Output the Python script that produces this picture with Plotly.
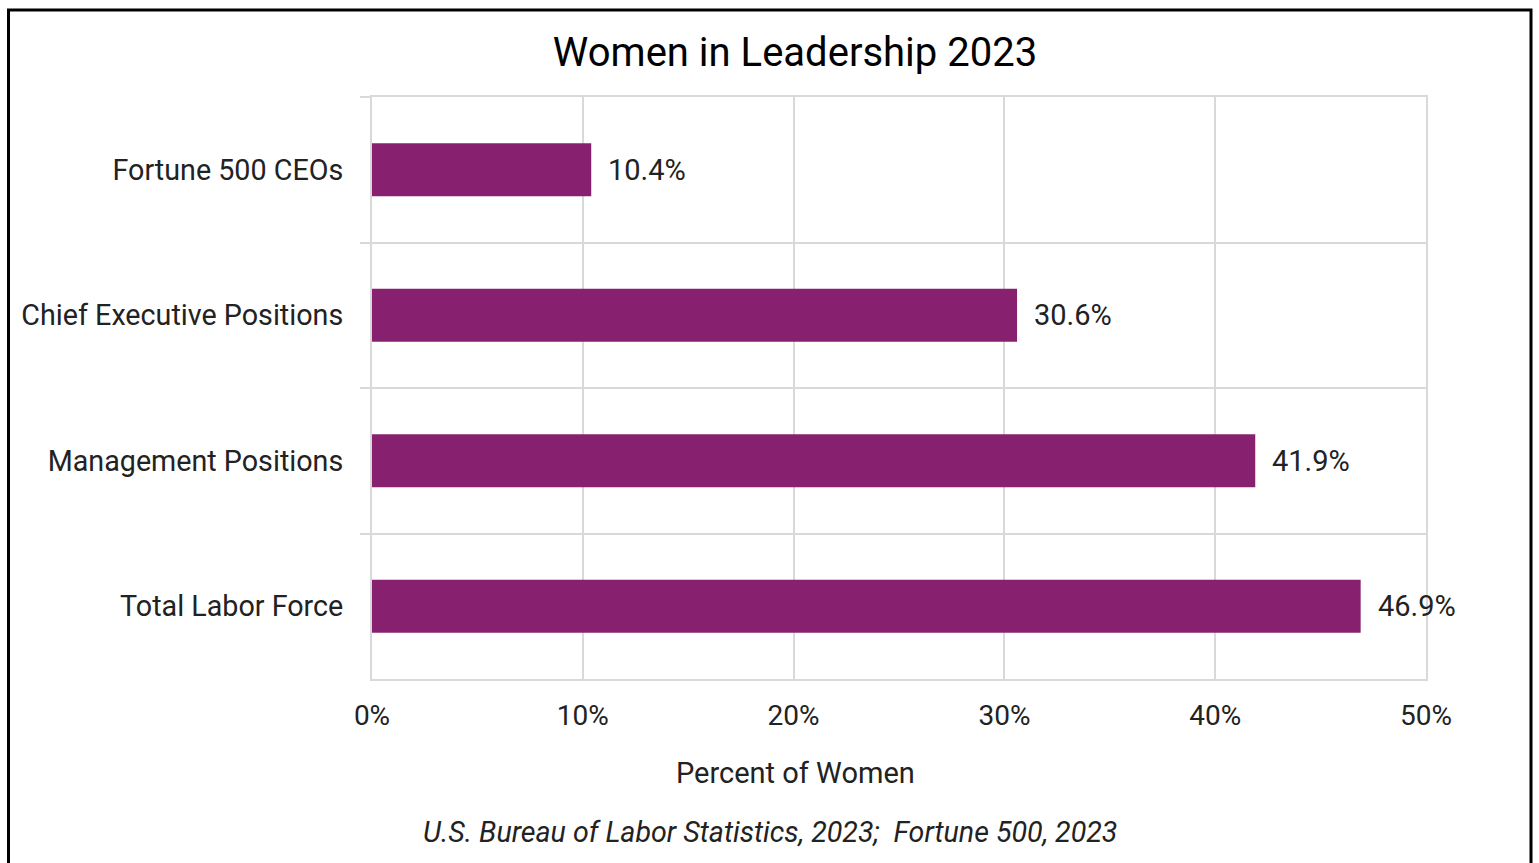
import plotly.graph_objects as go

# Share of women by leadership level, 2023
categories = ["Fortune 500 CEOs", "Chief Executive Positions",
              "Management Positions", "Total Labor Force"]
percent_women = [10.4, 30.6, 41.9, 46.9]
x_ticks = [0, 10, 20, 30, 40, 50]
x_tick_labels = ["0%", "10%", "20%", "30%", "40%", "50%"]

W, H = 1539, 863
ML, MR, MT, MB = 372, 113, 97, 184
PW, PH = W - ML - MR, H - MT - MB

BAR_COLOR = "#87216F"
GRID = "#d9d9d9"
TEXT = "#222222"
FONT = "Roboto"


def px_x(p):
    return (p - ML) / PW


def px_y(p):
    return (H - MB - p) / PH


fig = go.Figure(
    go.Bar(
        x=percent_women,
        y=categories,
        orientation="h",
        marker=dict(color=BAR_COLOR, line=dict(width=0)),
        hoverinfo="skip",
    )
)

# value labels to the right of each bar
for cat, val in zip(categories, percent_women):
    fig.add_annotation(
        x=val, y=cat, text=f"{val:.1f}%", showarrow=False,
        xanchor="left", xshift=15,
        font=dict(family=FONT, size=29, color=TEXT),
    )

# axis title, centred on the page rather than on the plot area
fig.add_annotation(
    xref="paper", yref="paper", x=px_x(795), y=px_y(773),
    text="Percent of Women", showarrow=False,
    xanchor="center", yanchor="middle",
    font=dict(family=FONT, size=29, color=TEXT),
)

# source line
fig.add_annotation(
    xref="paper", yref="paper", x=px_x(770), y=px_y(832),
    text="<i>U.S. Bureau of Labor Statistics, 2023;  Fortune 500, 2023</i>",
    showarrow=False, xanchor="center", yanchor="middle",
    font=dict(family=FONT, size=28.6, color=TEXT),
)

# outer frame
fig.add_shape(
    type="rect", xref="paper", yref="paper",
    x0=px_x(8.5), x1=px_x(1531), y0=px_y(10), y1=px_y(H + 10),
    line=dict(color="black", width=3), fillcolor="rgba(0,0,0,0)", layer="above",
)

fig.update_layout(
    width=W, height=H,
    margin=dict(l=ML, r=MR, t=MT, b=MB, pad=0),
    paper_bgcolor="white", plot_bgcolor="white",
    bargap=0.635,
    showlegend=False,
    title=dict(
        text="Women in Leadership 2023",
        x=795 / W, xanchor="center", y=1 - 52 / H, yanchor="middle",
        font=dict(family=FONT, size=40, color="black"),
    ),
    font=dict(family=FONT, color=TEXT),
    xaxis=dict(
        range=[0, 50], tickvals=x_ticks, ticktext=x_tick_labels,
        showgrid=True, gridcolor=GRID, gridwidth=2,
        showline=True, linecolor=GRID, linewidth=2, mirror=True,
        zeroline=False, ticks="",
        tickfont=dict(family=FONT, size=28, color=TEXT),
        ticklabelstandoff=10,
        fixedrange=True,
    ),
    yaxis=dict(
        type="category", categoryorder="array", categoryarray=categories,
        autorange="reversed",
        tickson="boundaries", ticks="outside", ticklen=10,
        tickcolor=GRID, tickwidth=2,
        showgrid=True, gridcolor=GRID, gridwidth=2,
        showline=True, linecolor=GRID, linewidth=2, mirror=True,
        zeroline=False,
        tickfont=dict(family=FONT, size=28.7, color=TEXT),
        ticklabelstandoff=21,
        fixedrange=True,
    ),
)

fig.write_html("out.html", config={"displayModeBar": False})
